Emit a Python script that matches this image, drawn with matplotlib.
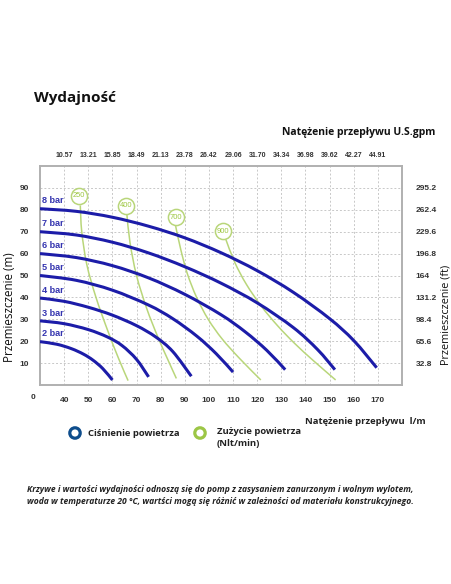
import numpy as np
import matplotlib.pyplot as plt
from matplotlib.patches import Circle, PathPatch
from matplotlib.path import Path
from matplotlib.transforms import blended_transform_factory

# flow in l/min (bottom axis) and head in m (left axis)
x_ticks = [40, 50, 60, 70, 80, 90, 100, 110, 120, 130, 140, 150, 160, 170]
gpm_labels = ["10.57", "13.21", "15.85", "18.49", "21.13", "23.78", "26.42",
              "29.06", "31.70", "34.34", "36.98", "39.62", "42.27", "44.91"]
y_ticks = [10, 20, 30, 40, 50, 60, 70, 80, 90]
ft_labels = ["32.8", "65.6", "98.4", "131.2", "164", "196.8", "229.6", "262.4", "295.2"]

# air pressure curves (blue)
bar_names = ["8 bar", "7 bar", "6 bar", "5 bar", "4 bar", "3 bar", "2 bar"]
bar_q = [
    [30, 45, 60, 75, 90, 105, 120, 135, 150, 160, 169.5],
    [30, 45, 60, 75, 90, 105, 120, 135, 145, 152.2],
    [30, 45, 60, 75, 90, 105, 115, 124, 131.6],
    [30, 45, 60, 75, 85, 95, 103, 110],
    [30, 40, 50, 60, 70, 78, 85, 92.7],
    [30, 40, 50, 58, 64, 70, 75],
    [30, 37, 43, 48, 52, 56, 60],
]
bar_h = [
    [80.5, 79.3, 76.6, 72.5, 67.2, 60.4, 52.2, 42.3, 30.3, 20.3, 7.9],
    [70, 68.5, 65.2, 60.3, 54, 46.5, 37.5, 26.2, 16.2, 7],
    [60, 58.2, 54.5, 48.9, 41.4, 32.1, 24.3, 15.8, 7],
    [50, 47.8, 43.3, 36.5, 30.3, 22.3, 14.3, 5.9],
    [39.7, 38.2, 35.5, 31.9, 27.1, 21.9, 15.3, 4],
    [29.3, 28, 25.3, 21.9, 18, 11.7, 3.7],
    [19.8, 18.6, 16.6, 14.1, 11.3, 7.5, 2.3],
]

# air consumption curves (green), Nlt/min
air_names = ["250", "400", "700", "900"]
air_q = [
    [46.7, 47.3, 49.4, 53.2, 58, 62.6, 66.5],
    [66, 67.3, 70, 74.2, 78.8, 82.8, 86.5],
    [86.2, 88.3, 91, 94.9, 99.7, 105.5, 112.8, 121.5],
    [107, 110.7, 115.5, 121.7, 128.5, 135.5, 143.4, 152.5],
]
air_h = [
    [82, 70, 55, 40, 25, 12, 2],
    [78, 65, 50, 35, 22, 12, 3],
    [72.6, 62, 51, 40, 30, 21, 12, 2.3],
    [66.5, 56, 46, 36, 27, 19, 11, 2.3],
]
air_label_q = [46.3, 65.6, 86.2, 105.9]
air_label_h = [86.4, 81.8, 76.5, 70.3]

blue = "#1c1ca8"
green = "#b9d67a"
green_txt = "#9cc63e"
tick_col = "#333333"
tick_font = ["Liberation Sans", "DejaVu Sans"]
text_font = ["Open Sans", "DejaVu Sans"]


def smooth_path(xs, ys):
    # Catmull-Rom through the read points, drawn as cubic Bezier segments
    p = np.column_stack([xs, ys]).astype(float)
    verts = [p[0]]
    codes = [Path.MOVETO]
    n = len(p)
    for i in range(n - 1):
        p0 = p[i - 1] if i > 0 else p[i]
        p1, p2 = p[i], p[i + 1]
        p3 = p[i + 2] if i + 2 < n else p[i + 1]
        verts += [p1 + (p2 - p0) / 6, p2 - (p3 - p1) / 6, p2]
        codes += [Path.CURVE4] * 3
    return Path(verts, codes)


W, H = 452, 584
fig = plt.figure(figsize=(W / 100, H / 100), dpi=100)
ax = fig.add_axes([40 / W, 1 - 385 / H, 362 / W, 219 / H])

for q, h in zip(air_q, air_h):
    ax.add_patch(PathPatch(smooth_path(q, h), fill=False, ec=green, lw=1.1, zorder=2))
for q, h in zip(bar_q, bar_h):
    ax.add_patch(PathPatch(smooth_path(q, h), fill=False, ec=blue, lw=2.2,
                           zorder=3, capstyle="butt"))
for name, q, h in zip(bar_names, bar_q, bar_h):
    ax.text(q[0] + 1, h[0] + 1.5, name, color="#3535b0", fontsize=6.6,
            fontweight="bold", family=tick_font, va="bottom", ha="left", zorder=4)
ax.scatter(air_label_q, air_label_h, s=135, facecolor="white", edgecolor=green,
           linewidth=1.1, zorder=5)
for name, q, h in zip(air_names, air_label_q, air_label_h):
    ax.text(q, h, name, color=green_txt, fontsize=5.4, ha="center", va="center",
            family=tick_font, zorder=6)

ax.set_xlim(30, 180)
ax.set_ylim(0, 100)
ax.set_xticks(x_ticks)
ax.set_yticks(y_ticks)
ax.grid(True, color="#c8c8c8", ls=(0, (2, 2)), lw=0.7)
ax.set_axisbelow(True)
for sp in ax.spines.values():
    sp.set_color("#b0b0b0")
    sp.set_linewidth(1.4)
ax.tick_params(length=0, labelsize=6, labelcolor=tick_col)
ax.tick_params(axis="x", pad=9)
ax.tick_params(axis="y", pad=8)
for lab in ax.get_xticklabels() + ax.get_yticklabels():
    lab.set_fontweight("bold")
    lab.set_family(tick_font)
tr = blended_transform_factory(ax.transData, ax.transAxes)
ax.text(27.3, -0.055, "0", transform=tr, fontsize=6, fontweight="bold",
        color=tick_col, ha="center", va="center", family=tick_font)

axt = ax.twiny()
axt.set_xlim(ax.get_xlim())
axt.set_xticks(x_ticks)
axt.set_xticklabels(gpm_labels)
axt.tick_params(length=0, labelsize=5, labelcolor=tick_col, pad=5)
for lab in axt.get_xticklabels():
    lab.set_fontweight("bold")
    lab.set_family(tick_font)

axr = ax.twinx()
axr.set_ylim(ax.get_ylim())
axr.set_yticks(y_ticks)
axr.set_yticklabels(ft_labels)
axr.tick_params(length=0, labelsize=6, labelcolor=tick_col, pad=10)
for lab in axr.get_yticklabels():
    lab.set_fontweight("bold")
    lab.set_family(tick_font)
for a in (axt, axr):
    for sp in a.spines.values():
        sp.set_visible(False)

# page texts in pixel coordinates
pg = fig.add_axes([0, 0, 1, 1], zorder=-1)
pg.set_xlim(0, W)
pg.set_ylim(H, 0)
pg.axis("off")
pg.text(34, 98, "Wydajność", fontsize=11, fontweight="bold", family=text_font,
        va="center", ha="left", color="#111111")
pg.text(435, 132, "Natężenie przepływu U.S.gpm", fontsize=7.5, fontweight="bold",
        family=text_font, va="center", ha="right", color="#111111")
pg.text(10, 307, "Przemieszczenie (m)", fontsize=8.4, family=text_font,
        rotation=90, va="center", ha="center", color="#111111")
pg.text(446, 315, "Przemieszczenie (ft)", fontsize=7.8, family=text_font,
        rotation=90, va="center", ha="center", color="#111111")

pg.add_patch(Circle((75, 433), 5.2, fill=False, ec="#0e4d8c", lw=2.3))
pg.text(88, 433, "Ciśnienie powietrza", fontsize=6.8, fontweight="bold",
        family=text_font, va="center", ha="left", color="#222222")
pg.add_patch(Circle((200, 433), 5.2, fill=False, ec="#9cc646", lw=2.3))
pg.text(217, 431, "Zużycie powietrza", fontsize=6.8, fontweight="bold",
        family=text_font, va="center", ha="left", color="#222222")
pg.text(217, 443, "(Nlt/min)", fontsize=6.8, fontweight="bold",
        family=text_font, va="center", ha="left", color="#222222")
pg.text(305, 421, "Natężenie przepływu  l/m", fontsize=6.8, fontweight="bold",
        family=text_font, va="center", ha="left", color="#222222")

pg.text(27, 489, "Krzywe i wartości wydajności odnoszą się do pomp z zasysaniem zanurzonym i wolnym wylotem,",
        fontsize=6.1, fontweight="bold", style="italic", family=text_font,
        va="center", ha="left", color="#222222")
pg.text(27, 501, "woda w temperaturze 20 °C, wartści mogą się różnić w zależności od materiału konstrukcyjnego.",
        fontsize=6.1, fontweight="bold", style="italic", family=text_font,
        va="center", ha="left", color="#222222")

fig.savefig("out.png", dpi=100)
